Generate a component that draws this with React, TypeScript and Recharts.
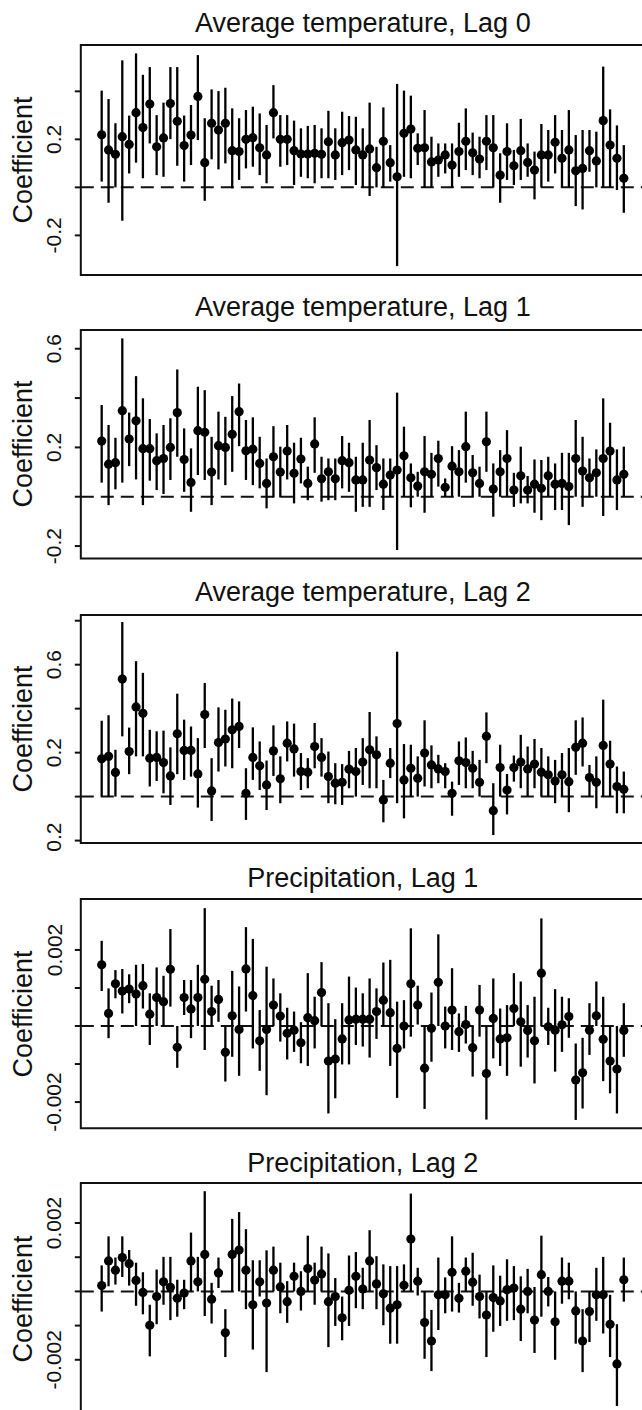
import { ComposedChart, ErrorBar, ReferenceArea, ReferenceLine, Scatter, XAxis, YAxis } from 'recharts';

// 77 sites, plotted left to right
const SITES = Array.from({ length: 77 }, (_, i) => i + 1);

const TITLES = [
  'Average temperature, Lag 0',
  'Average temperature, Lag 1',
  'Average temperature, Lag 2',
  'Precipitation, Lag 1',
  'Precipitation, Lag 2',
];

// Average temperature, lag 0
const T0_EST = [
  0.219, 0.156, 0.138, 0.211, 0.179, 0.311, 0.249, 0.347, 0.169, 0.206, 0.349, 0.275, 0.174, 0.218, 0.379, 0.103,
  0.267, 0.239, 0.267, 0.153, 0.149, 0.2, 0.207, 0.165, 0.135, 0.311, 0.2, 0.2, 0.153, 0.139, 0.139, 0.142,
  0.138, 0.19, 0.135, 0.186, 0.197, 0.156, 0.135, 0.16, 0.082, 0.192, 0.103, 0.044, 0.225, 0.243, 0.163, 0.165,
  0.106, 0.114, 0.135, 0.093, 0.149, 0.192, 0.144, 0.118, 0.192, 0.165, 0.051, 0.149, 0.09, 0.153, 0.104, 0.072,
  0.135, 0.135, 0.188, 0.121, 0.156, 0.069, 0.079, 0.153, 0.11, 0.278, 0.176, 0.121, 0.038,
];
const T0_LO = [
  0.024, -0.064, 0, -0.139, 0.058, 0.103, 0.038, 0.183, 0.051, 0.044, 0.201, 0.09, 0.024, 0.093, 0.197, -0.056,
  0.117, 0.075, 0.1, -0.004, 0.031, 0.079, 0.086, 0.051, 0.017, 0.204, 0.086, 0.093, 0.01, 0.044, 0.038, 0.017,
  0.038, 0.038, 0.031, 0.051, 0.072, 0.01, 0, -0.036, 0, 0, 0.024, -0.328, 0.044, 0.038, 0.093, 0,
  0, 0.044, 0.058, 0, 0.044, 0.072, 0.051, 0.038, 0.072, 0, -0.064, 0.031, 0.01, 0.031, 0.044, -0.05,
  0, 0.024, 0.058, 0, 0, -0.078, -0.092, 0.065, 0, 0, 0, -0.011, -0.106,
];
const T0_HI = [
  0.403, 0.368, 0.267, 0.529, 0.299, 0.558, 0.469, 0.501, 0.301, 0.353, 0.501, 0.501, 0.299, 0.343, 0.551, 0.288,
  0.408, 0.401, 0.415, 0.329, 0.288, 0.322, 0.336, 0.308, 0.26, 0.426, 0.301, 0.301, 0.278, 0.246, 0.256, 0.26,
  0.246, 0.319, 0.246, 0.315, 0.297, 0.294, 0.246, 0.353, 0.169, 0.333, 0.176, 0.431, 0.403, 0.382, 0.225, 0.322,
  0.211, 0.183, 0.183, 0.183, 0.269, 0.329, 0.228, 0.211, 0.301, 0.301, 0.142, 0.267, 0.156, 0.285, 0.183, 0.149,
  0.264, 0.239, 0.301, 0.239, 0.322, 0.218, 0.239, 0.239, 0.232, 0.503, 0.325, 0.258, 0.176,
];

// Average temperature, lag 1
const T1_EST = [
  0.226, 0.132, 0.138, 0.349, 0.234, 0.308, 0.195, 0.195, 0.146, 0.155, 0.2, 0.341, 0.151, 0.058, 0.268, 0.261,
  0.1, 0.207, 0.2, 0.253, 0.345, 0.186, 0.193, 0.135, 0.054, 0.162, 0.1, 0.185, 0.095, 0.153, 0.054, 0.214,
  0.073, 0.101, 0.073, 0.146, 0.138, 0.068, 0.068, 0.149, 0.118, 0.051, 0.088, 0.108, 0.166, 0.077, 0.043, 0.101,
  0.091, 0.155, 0.038, 0.124, 0.101, 0.203, 0.097, 0.054, 0.223, 0.031, 0.101, 0.155, 0.027, 0.085, 0.027, 0.051,
  0.034, 0.085, 0.051, 0.054, 0.041, 0.155, 0.104, 0.077, 0.097, 0.155, 0.185, 0.068, 0.091,
];
const T1_LO = [
  0.057, -0.034, 0.03, 0.057, 0.124, 0.07, -0.034, 0.065, 0.027, 0.011, 0.068, 0.162, 0.02, -0.061, 0.088, 0.068,
  -0.034, 0.07, 0.047, 0.101, 0.205, 0.068, 0.047, 0.034, -0.047, -0.003, -0.003, 0.07, -0.027, 0.054, -0.014, 0.097,
  -0.02, -0.014, -0.014, 0.034, 0.02, -0.061, -0.041, -0.041, 0.027, -0.054, 0, -0.216, 0, -0.043, 0, -0.065,
  0, 0.041, 0, 0, 0, 0.057, 0, 0, 0.101, -0.081, 0, 0, -0.041, -0.027, -0.027, -0.065,
  -0.095, 0, -0.054, -0.054, -0.115, 0, -0.041, 0, 0, -0.078, 0, -0.054, 0,
];
const T1_HI = [
  0.372, 0.291, 0.239, 0.642, 0.341, 0.489, 0.399, 0.315, 0.257, 0.291, 0.318, 0.516, 0.277, 0.196, 0.446, 0.432,
  0.243, 0.345, 0.324, 0.408, 0.459, 0.311, 0.322, 0.243, 0.155, 0.286, 0.203, 0.291, 0.219, 0.239, 0.122, 0.322,
  0.162, 0.155, 0.155, 0.246, 0.219, 0.162, 0.219, 0.311, 0.209, 0.155, 0.155, 0.422, 0.284, 0.135, 0.101, 0.246,
  0.178, 0.227, 0.074, 0.205, 0.189, 0.345, 0.169, 0.122, 0.345, 0.135, 0.189, 0.27, 0.097, 0.203, 0.084, 0.151,
  0.149, 0.162, 0.135, 0.178, 0.178, 0.311, 0.243, 0.155, 0.192, 0.399, 0.3, 0.192, 0.203,
];

// Average temperature, lag 2
const T2_EST = [
  0.172, 0.183, 0.11, 0.535, 0.205, 0.408, 0.379, 0.175, 0.178, 0.155, 0.094, 0.286, 0.21, 0.21, 0.103, 0.373,
  0.026, 0.246, 0.262, 0.304, 0.319, 0.015, 0.178, 0.14, 0.053, 0.208, 0.081, 0.243, 0.217, 0.114, 0.111, 0.228,
  0.178, 0.091, 0.061, 0.065, 0.125, 0.114, 0.157, 0.213, 0.19, -0.015, 0.152, 0.332, 0.076, 0.129, 0.084, 0.198,
  0.144, 0.126, 0.114, 0.015, 0.163, 0.155, 0.129, 0.065, 0.274, -0.064, 0.132, 0.03, 0.132, 0.157, 0.126, 0.148,
  0.111, 0.099, 0.071, 0.099, 0.068, 0.224, 0.243, 0.087, 0.065, 0.233, 0.148, 0.046, 0.033,
];
const T2_LO = [
  0, 0, 0, 0.274, 0.102, 0.183, 0.183, 0.046, 0.071, 0.015, -0.038, 0.102, 0.076, 0.091, -0.05, 0.221,
  -0.111, 0.114, 0.137, 0.129, 0.221, -0.106, 0.076, 0.03, -0.061, 0.094, -0.03, 0.16, 0.091, 0.03, 0.038, 0.129,
  0.091, -0.03, -0.035, -0.038, 0.038, 0, 0.053, 0.038, 0.038, -0.117, 0.084, -0.03, -0.099, 0, 0, 0.046,
  0.038, 0.061, 0.038, -0.087, 0.053, 0.038, 0.038, 0, 0.152, -0.175, 0, -0.081, 0.068, 0.038, 0, 0.038,
  0, 0, -0.03, 0, -0.071, 0.099, 0.137, 0, -0.053, 0, 0, -0.076, -0.076,
];
const T2_HI = [
  0.345, 0.37, 0.213, 0.794, 0.314, 0.616, 0.563, 0.304, 0.297, 0.3, 0.224, 0.468, 0.35, 0.319, 0.266, 0.517,
  0.175, 0.406, 0.395, 0.446, 0.433, 0.129, 0.315, 0.251, 0.164, 0.324, 0.183, 0.342, 0.332, 0.198, 0.175, 0.335,
  0.266, 0.205, 0.152, 0.148, 0.208, 0.221, 0.266, 0.385, 0.274, 0.076, 0.221, 0.659, 0.239, 0.236, 0.183, 0.347,
  0.233, 0.19, 0.152, 0.068, 0.251, 0.269, 0.208, 0.167, 0.383, 0.061, 0.236, 0.103, 0.187, 0.281, 0.228, 0.262,
  0.221, 0.183, 0.167, 0.198, 0.221, 0.347, 0.36, 0.144, 0.183, 0.441, 0.254, 0.137, 0.114,
];

// Precipitation, lag 1
const P1_EST = [
  0.00161, 0.00033, 0.00111, 0.00092, 0.00097, 0.00084, 0.00106, 0.00031, 0.00075, 0.00064, 0.00149, -0.00056,
  0.00075, 0.00045, 0.00075, 0.00123, 0.00038, 0.0007, -0.00069, 0.00027, -0.00009, 0.0015, 0.0008, -0.00039,
  -0.00009, 0.00055, 0.00026, -0.00019, -0.00011, -0.00044, 0.00022, 0.00014, 0.00088, -0.00092, -0.00087,
  -0.00034, 0.00016, 0.00018, 0.00018, 0.00018, 0.00038, 0.00068, 0.00035, -0.00059, 0, 0.00111, 0.00055,
  -0.00111, -0.00006, 0.00115, 0, 0.00042, -0.00015, 0.00004, -0.00057, 0.00042, -0.00125, 0.0002, -0.00034,
  -0.00031, 0.00046, 0.00011, -0.00012, -0.00039, 0.00139, -0.00002, -0.00011, 0.00003, 0.00025, -0.00142,
  -0.00123, -0.00011, 0.00027, -0.00035, -0.00092, -0.00113, -0.00012,
];
const P1_LO = [
  0.00092, -0.00032, 0.00073, 0.00033, 0.0006, 0, 0.00046, -0.0005, 0, 0, 0.00051, -0.0011, 0.00029, -0.00032,
  0, -0.00063, 0, 0.00011, -0.00146, -0.00081, -0.00131, 0.00038, -0.00059, -0.00118, -0.00182, 0, -0.00041,
  -0.00088, -0.00068, -0.00098, -0.00105, -0.00059, 0, -0.0023, -0.0019, -0.00101, -0.00101, -0.0005, -0.00054,
  -0.00083, -0.00034, 0, -0.00105, -0.00189, -0.00059, -0.00028, 0.00004, -0.00218, -0.00094, 0, -0.00059,
  -0.00063, -0.00068, -0.00046, -0.00133, -0.00028, -0.00246, -0.00085, -0.00105, -0.00131, 0, -0.00107,
  -0.00083, -0.00151, 0, -0.0005, -0.0012, -0.00068, -0.00031, -0.00247, -0.00217, -0.00076, 0, -0.00145,
  -0.00177, -0.0023, -0.00081,
];
const P1_HI = [
  0.00224, 0.00099, 0.00147, 0.0015, 0.00136, 0.00161, 0.00163, 0.00086, 0.00154, 0.00132, 0.00255, 0,
  0.00121, 0.00121, 0.00161, 0.0031, 0.00106, 0.00121, 0, 0.00145, 0.00104, 0.0026, 0.00229, 0.00042, 0.00156,
  0.00125, 0.00086, 0.00048, 0.00038, 0.0001, 0.00139, 0.00077, 0.00168, 0.0006, 0.00018, 0.0006, 0.0013,
  0.00101, 0.00086, 0.00125, 0.00099, 0.00167, 0.00174, 0.00064, 0.00068, 0.00257, 0.00106, 0, 0.00088,
  0.00241, 0.00051, 0.00152, 0.00033, 0.00053, 0, 0.00108, 0, 0.00125, 0.00046, 0.00055, 0.00139, 0.00117,
  0.00055, 0.00077, 0.00283, 0.00048, 0.00097, 0.00077, 0.00073, -0.00046, -0.00031, 0.0006, 0.00117, 0.00077,
  0, 0, 0.0006,
];

// Precipitation, lag 2
const P2_EST = [
  0.00017, 0.00089, 0.00062, 0.00099, 0.00081, 0.00032, -0.00003, -0.00099, -0.00015, 0.00028, 0.00012, -0.0002,
  -0.00005, 0.00089, 0.00028, 0.00108, -0.00023, 0.00054, -0.00121, 0.00108, 0.00121, 0.00062, -0.00039, 0.00028,
  -0.00034, 0.00062, 0.00013, -0.0003, 0.00044, 0, 0.00067, 0.00033, 0.00051, -0.0003, -0.00015, -0.00077,
  0.00003, 0.00044, 0.00007, 0.00089, 0.00022, -0.00007, -0.00049, -0.00039, 0.00018, 0.00153, 0.0003, -0.00091,
  -0.00145, -0.0001, -0.0001, 0.00056, -0.0002, 0.00059, 0.00027, -0.00015, -0.00069, -0.00018, -0.00028,
  0.00005, 0.0001, -0.00052, 0, -0.00084, 0.00049, 0, -0.00089, 0.0003, 0.0003, -0.00057, -0.00145, -0.00059,
  -0.0001, -0.0001, -0.00096, -0.00212, 0.00034,
];
const P2_LO = [
  -0.00059, 0.00015, 0.0002, 0.00042, 0.00017, -0.00042, -0.00067, -0.0019, -0.00096, -0.00039, -0.00084,
  -0.00074, -0.00052, 0, 0, -0.00072, -0.00094, 0.0001, -0.00192, 0, 0, -0.00052, -0.0017, -0.00015, -0.00236, 0,
  -0.00064, -0.00092, 0, -0.00056, 0, -0.00039, 0, -0.00163, -0.00101, -0.00143, -0.00101, -0.00049, -0.00052, 0,
  -0.00052, -0.00099, -0.00153, -0.00153, 0, 0, -0.00012, -0.00197, -0.00233, -0.00113, -0.00064, -0.00059,
  -0.00062, 0, -0.00042, -0.00079, -0.00192, -0.00118, -0.00101, -0.00086, -0.00084, -0.00145, -0.00064, -0.0018,
  -0.00074, -0.00044, -0.002, -0.00036, -0.00023, -0.00153, -0.00236, -0.00148, -0.00086, -0.00123, -0.00192,
  -0.00335, -0.0003,
];
const P2_HI = [
  0.00076, 0.00161, 0.00099, 0.00161, 0.00121, 0.00084, 0.00056, -0.00039, 0.00064, 0.00101, 0.00101, 0.00034,
  0.00034, 0.00172, 0.00101, 0.00293, 0.00025, 0.00099, -0.00052, 0.00212, 0.00232, 0.00182, 0.00091, 0.00091,
  0.0012, 0.00131, 0.00084, 0.0003, 0.00084, 0.00059, 0.00163, 0.00084, 0.00131, 0.00111, 0.00039, -0.00015,
  0.00105, 0.00115, 0.00069, 0.00179, 0.00103, 0.00079, 0.00074, 0.00074, 0.00079, 0.00286, 0.00069, 0, -0.00054,
  0.00099, 0.00041, 0.00161, 0.00025, 0.00099, 0.00113, 0.00049, 0, 0.00076, 0.00046, 0.00094, 0.00074, 0.00044,
  0.00066, 0.00013, 0.00163, 0.00042, 0, 0.00099, 0.00084, 0, -0.00052, 0, 0.00069, 0.00101, -0.0001, -0.00096,
  0.00099,
];

const ESTIMATES = [T0_EST, T1_EST, T2_EST, P1_EST, P2_EST];
const LOWER = [T0_LO, T1_LO, T2_LO, P1_LO, P2_LO];
const UPPER = [T0_HI, T1_HI, T2_HI, P1_HI, P2_HI];

const Y_DOMAINS = [
  [-0.365, 0.593],
  [-0.25, 0.676],
  [-0.211, 0.826],
  [-0.00269, 0.00334],
  [-0.0036, 0.00317],
];
const Y_TICKS = [
  [-0.2, 0, 0.2, 0.4],
  [-0.2, 0, 0.2, 0.4, 0.6],
  [-0.2, 0, 0.2, 0.4, 0.6, 0.8],
  [-0.002, -0.001, 0, 0.001, 0.002],
  [-0.002, -0.001, 0, 0.001, 0.002],
];
const Y_LABELED = [
  [-0.2, 0.2],
  [-0.2, 0.2, 0.6],
  [-0.2, 0.2, 0.6],
  [-0.002, 0.002],
  [-0.002, 0.002],
];

// layout (px): plot box top, box height, room below box, title centre
const BOX_TOP = [45, 330, 615, 899, 1183.3];
const BOX_H = [230, 228.4, 228, 229.3, 231.5];
const BELOW = [12, 12, 8, 12, 0];
const TITLE_Y = [22.5, 307, 592, 878, 1163];

const X_MIN = -2.04;
const X_MAX = 80.04;
const PLOT_LEFT = 80.8;
const CHART_W = 646;
const FONT = 'Arial, "Liberation Sans", sans-serif';

function RotTick(props: any) {
  const { y, payload, labeled } = props;
  if (!labeled.includes(payload.value)) return null;
  return (
    <text
      x={54}
      y={y}
      transform={`rotate(-90, 54, ${y})`}
      textAnchor='middle'
      dominantBaseline='central'
      fontSize={21}
      fontFamily={FONT}
      fill='#111'
    >
      {String(payload.value)}
    </text>
  );
}

function Panel({ idx }: { idx: number }) {
  const data = SITES.map((s, i) => ({
    x: s,
    est: ESTIMATES[idx][i],
    err: [ESTIMATES[idx][i] - LOWER[idx][i], UPPER[idx][i] - ESTIMATES[idx][i]],
  }));
  const top = BOX_TOP[idx];
  const h = BOX_H[idx];
  const dom = Y_DOMAINS[idx];
  const chartH = h + 6 + BELOW[idx];
  const labeled = Y_LABELED[idx];
  return (
    <>
      <div
        style={{
          position: 'absolute',
          left: PLOT_LEFT,
          width: 564,
          top: TITLE_Y[idx] - 16,
          height: 32,
          lineHeight: '32px',
          textAlign: 'center',
          fontSize: 27,
          fontFamily: FONT,
          color: '#111',
          whiteSpace: 'nowrap',
        }}
      >
        {TITLES[idx]}
      </div>
      <div
        style={{
          position: 'absolute',
          left: 23,
          top: top + h / 2,
          transform: 'translate(-50%, -50%) rotate(-90deg)',
          fontSize: 27,
          fontFamily: FONT,
          color: '#111',
          whiteSpace: 'nowrap',
          lineHeight: '30px',
        }}
      >
        Coefficient
      </div>
      <div style={{ position: 'absolute', left: 0, top: top - 6, width: CHART_W, height: chartH, overflow: 'hidden' }}>
        <ComposedChart
          width={CHART_W}
          height={chartH}
          data={data}
          margin={{ top: 6, right: CHART_W - 644.7, left: 0, bottom: BELOW[idx] }}
        >
          <XAxis type='number' dataKey='x' domain={[X_MIN, X_MAX]} allowDataOverflow hide />
          <YAxis
            type='number'
            domain={dom}
            ticks={Y_TICKS[idx]}
            allowDataOverflow
            width={PLOT_LEFT}
            axisLine={false}
            tickSize={6}
            tickLine={{ stroke: '#111', strokeWidth: 2 }}
            tick={(p: any) => <RotTick {...p} labeled={labeled} />}
            interval={0}
          />
          <ReferenceArea
            x1={X_MIN}
            x2={X_MAX}
            y1={dom[0]}
            y2={dom[1]}
            fill='none'
            fillOpacity={0}
            stroke='#111'
            strokeWidth={2}
            ifOverflow='visible'
          />
          <ReferenceLine y={0} stroke='#111' strokeWidth={2} strokeDasharray='13 7' />
          <Scatter
            dataKey='est'
            isAnimationActive={false}
            shape={(p: any) => <circle cx={p.cx} cy={p.cy} r={4.6} fill='#000' />}
          >
            <ErrorBar dataKey='err' direction='y' width={0} stroke='#000' strokeWidth={2.3} />
          </Scatter>
        </ComposedChart>
      </div>
    </>
  );
}

export default function App() {
  return (
    <div style={{ position: 'relative', width: 642, height: 1410, overflow: 'hidden', background: '#fff' }}>
      <style>{'body{margin:0;overflow:hidden;}'}</style>
      {TITLES.map((_, i) => (
        <Panel key={i} idx={i} />
      ))}
    </div>
  );
}
